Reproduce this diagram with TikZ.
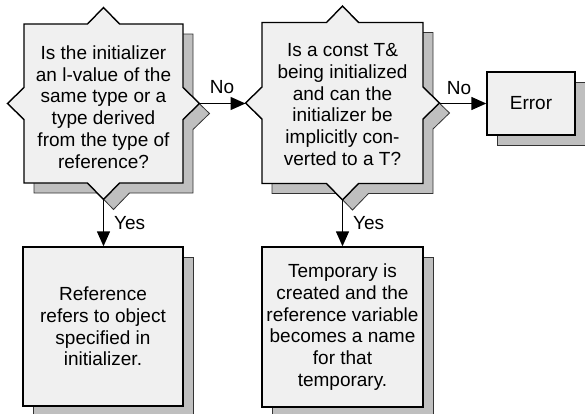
\documentclass[tikz,border=0pt]{standalone}
\usepackage{fontspec}
\setmainfont{Liberation Sans}
\usetikzlibrary{arrows.meta}
\newcommand\notchsq[4]{% cx cy h style
  \path[#4] ({#1-#3},{#2-#3}) -- ({#1-16},{#2-#3}) -- (#1,{#2-#3-16.5}) -- ({#1+16},{#2-#3})
   -- ({#1+#3},{#2-#3}) -- ({#1+#3},{#2-16}) -- ({#1+#3+16.5},#2) -- ({#1+#3},{#2+16})
   -- ({#1+#3},{#2+#3}) -- ({#1+16},{#2+#3}) -- (#1,{#2+#3+16.5}) -- ({#1-16},{#2+#3})
   -- ({#1-#3},{#2+#3}) -- ({#1-#3},{#2+16}) -- ({#1-#3-16.5},#2) -- ({#1-#3},{#2-16}) -- cycle;}
\begin{document}
\begin{tikzpicture}[x=1pt,y=-1pt,
  boxsty/.style={fill=gray!12,draw=black,line width=1.4pt},
  shadowsty/.style={fill=gray!50,draw=black!80,line width=0.8pt},
  txt/.style={align=center,font=\fontsize{19}{21.7}\selectfont,inner sep=0pt},
  lbl/.style={font=\fontsize{19}{21.7}\selectfont,inner sep=0pt},
  conn/.style={line width=1.4pt,-{Triangle[length=15pt,width=13pt]}}]
\useasboundingbox (0,0) rectangle (585,413);
% shadows
\notchsq{113.5}{113.5}{79.5}{shadowsty}
\notchsq{352.5}{113}{80.5}{shadowsty}
\path[shadowsty] (497,82) rectangle (585,145);
\path[shadowsty] (33,257) rectangle (193,416);
\path[shadowsty] (272,257) rectangle (433,417);
% decision shapes
\notchsq{103.5}{103.5}{79.5}{boxsty}
\notchsq{342.5}{103}{80.5}{boxsty}
\node[txt] (d1) at (103.5,107) {Is the initializer\\an l-value of the\\same type or a\\type derived\\from the type of\\reference?};
\node[txt] (d2) at (342.5,104.5) {Is a const T\&\\being initialized\\and can the\\initializer be\\implicitly con-\\verted to a T?};
\coordinate (d1r) at (200,103.5);
\coordinate (d1b) at (103.5,199.5);
\coordinate (d2l) at (245.5,103.5);
\coordinate (d2r) at (439.5,103.5);
\coordinate (d2b) at (342.5,200);
% boxes
\node[boxsty,txt,minimum width=88pt,minimum height=63pt] (err) at (531,103.5) {Error};
\node[boxsty,txt,minimum width=160pt,minimum height=159pt] (r1) at (103,326.5) {Reference\\refers to object\\specified in\\initializer.};
\node[boxsty,txt,minimum width=161pt,minimum height=160pt] (r2) at (342.5,327) {Temporary is\\created and the\\reference variable\\becomes a name\\for that\\temporary.};
% connectors
\draw[conn] (d1r) -- (d2l);
\draw[conn] (d2r) -- (err.west);
\draw[conn] (d1b) -- (d1b |- r1.north);
\draw[conn] (d2b) -- (d2b |- r2.north);
% labels
\node[lbl] (no1) at (222,87) {No};
\node[lbl] (no2) at (459,88) {No};
\node[lbl,anchor=west] (yes1) at (114,223) {Yes};
\node[lbl,anchor=west] (yes2) at (353,223) {Yes};
\end{tikzpicture}
\end{document}
